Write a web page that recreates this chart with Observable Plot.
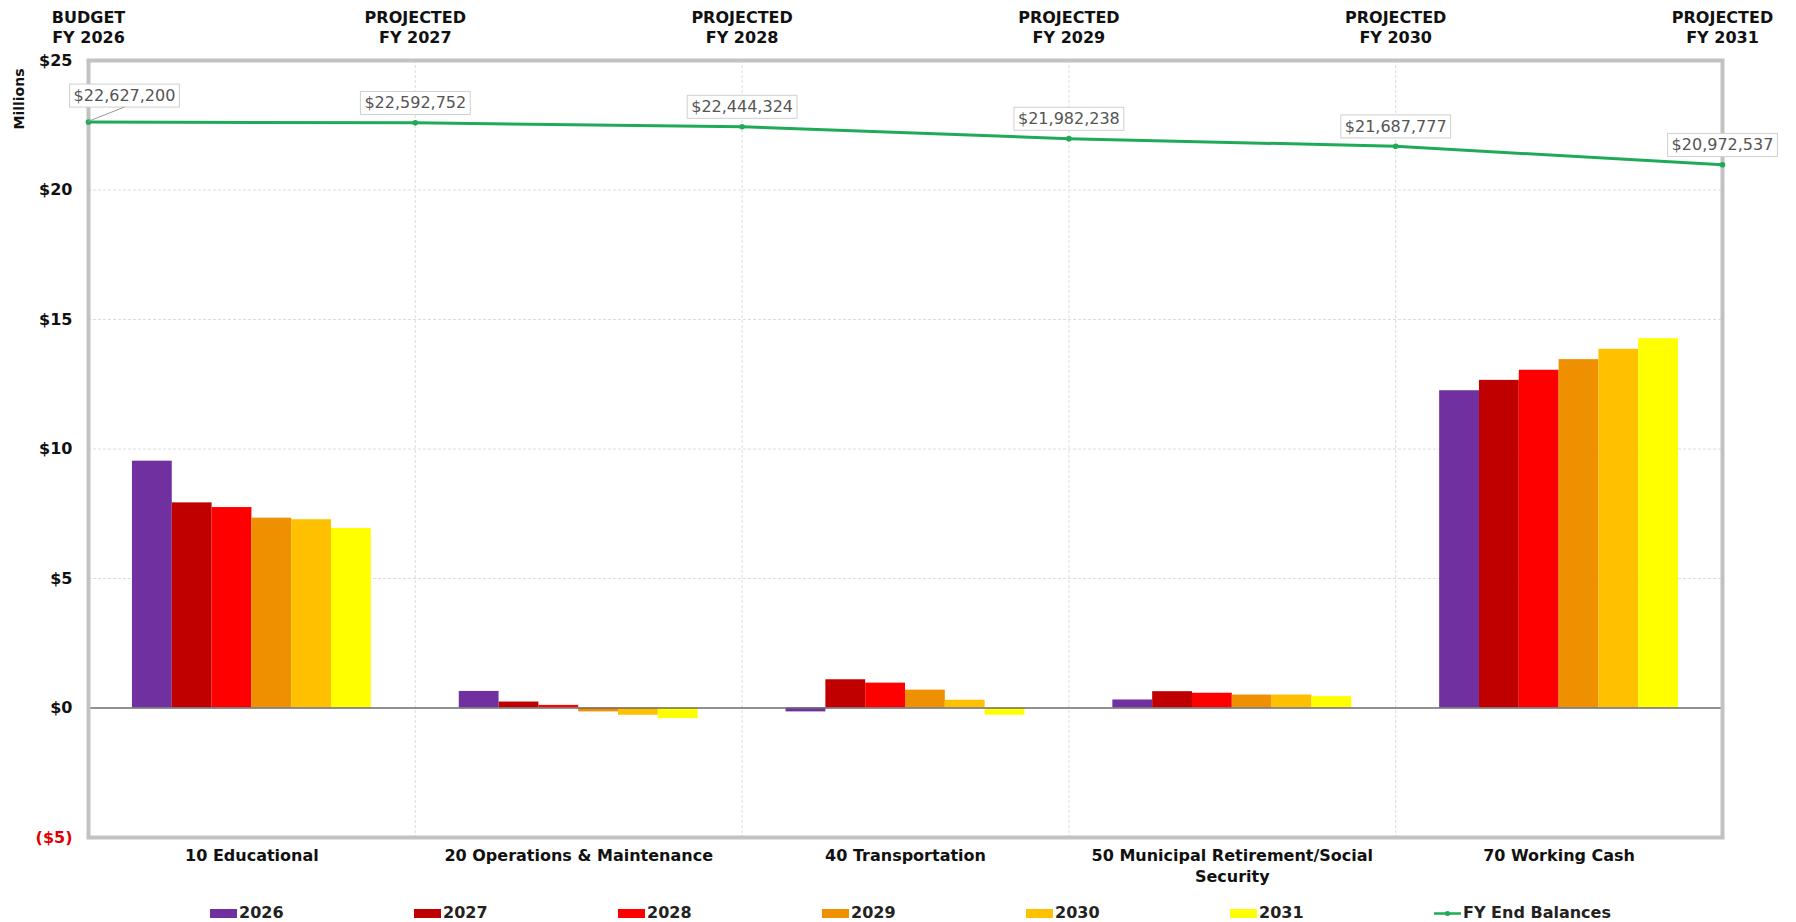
<!DOCTYPE html>
<html><head><meta charset="utf-8">
<script src="https://cdn.jsdelivr.net/npm/d3@7"></script>
<script src="https://cdn.jsdelivr.net/npm/@observablehq/plot@0.6"></script>
<style>
body{margin:0;background:#fff;font-family:"DejaVu Sans",sans-serif;}
#wrap{position:relative;width:1796px;height:922px;overflow:hidden;}
#legend{position:absolute;left:210px;top:903px;display:flex;}
.item{width:204px;display:flex;align-items:center;font-weight:bold;font-size:16px;color:#222;line-height:20px;}
.sw{width:27px;height:9px;margin-right:2px;}
#ylabel{position:absolute;left:19px;top:99px;transform:translate(-50%,-50%) rotate(-90deg);font-weight:bold;font-size:14px;color:#111;white-space:nowrap;}
</style></head><body><div id="wrap"><div id="chart"></div><div id="ylabel">Millions</div><div id="legend"></div></div>
<script>
// ---- data ----
const categories = ["10 Educational", "20 Operations & Maintenance", "40 Transportation", "50 Municipal Retirement/Social\nSecurity", "70 Working Cash"];
const years = ["2026", "2027", "2028", "2029", "2030", "2031"];
// fund balances in millions, by year, in category order
const v2026 = [9.53, 0.64, -0.15, 0.31, 12.25];
const v2027 = [7.92, 0.23, 1.09, 0.63, 12.65];
const v2028 = [7.74, 0.10, 0.96, 0.57, 13.04];
const v2029 = [7.33, -0.15, 0.69, 0.50, 13.45];
const v2030 = [7.27, -0.28, 0.30, 0.50, 13.85];
const v2031 = [6.93, -0.41, -0.28, 0.44, 14.26];
const fyEndBalances = [22627200, 22592752, 22444324, 21982238, 21687777, 20972537];
const fyTop = ["BUDGET", "PROJECTED", "PROJECTED", "PROJECTED", "PROJECTED", "PROJECTED"];
const fyLabels = ["FY 2026", "FY 2027", "FY 2028", "FY 2029", "FY 2030", "FY 2031"];
const yTicks = [-5, 0, 5, 10, 15, 20, 25];
const yearColors = ["#7030A0", "#C00000", "#FF0000", "#EE9000", "#FFC000", "#FFFF00"];
const lineColor = "#1faa58";

// ---- tables ----
const series = [v2026, v2027, v2028, v2029, v2030, v2031];
const bars = [];
years.forEach((yr, yi) => series[yi].forEach((v, ci) => bars.push({ci, yi, year: yr, value: v})));
const bal = fyEndBalances.map((v, i) => ({i, v, top: fyTop[i], fy: fyLabels[i]}));
const cats = categories.map((c, ci) => ({ci, c}));
const PAD = 0.1345, W = (1 - 2 * PAD) / years.length;
const money = d3.format(",");
const tickFmt = d => d < 0 ? `($${-d})` : `$${d}`;

const chart = Plot.plot({
  width: 1796, height: 890,
  marginLeft: 88, marginRight: 74, marginTop: 60, marginBottom: 53,
  style: {fontFamily: "DejaVu Sans, sans-serif", fontSize: "16px", background: "white", overflow: "visible"},
  x: {type: "linear", domain: [0, 5], axis: null},
  y: {domain: [-5, 25], axis: null},
  color: {type: "ordinal", domain: years, range: yearColors},
  marks: [
    Plot.ruleY([5, 10, 15, 20], {stroke: "#dcdcdc", strokeDasharray: "3,2"}),
    Plot.ruleX([1, 2, 3, 4], {stroke: "#dcdcdc", strokeDasharray: "3,2"}),
    Plot.rect(bars, {x1: d => d.ci + PAD + d.yi * W, x2: d => d.ci + PAD + (d.yi + 1) * W, y1: 0, y2: "value", fill: "year"}),
    Plot.ruleY([0], {stroke: "#6b6b6b", strokeWidth: 1.5}),
    Plot.frame({stroke: "#c2c2c2", strokeWidth: 4}),
    Plot.line(bal, {x: "i", y: d => d.v / 1e6, stroke: lineColor, strokeWidth: 3}),
    Plot.dot(bal, {x: "i", y: d => d.v / 1e6, fill: lineColor, r: 2.8}),
    Plot.text(bal.slice(0, 1), {x: "i", y: d => d.v / 1e6, text: d => "$" + money(d.v), dx: 36, dy: -26, fill: "#555", fontSize: 16, ariaDescription: "fy-labels"}),
    Plot.text(bal.slice(1), {x: "i", y: d => d.v / 1e6, text: d => "$" + money(d.v), dy: -19.5, fill: "#555", fontSize: 16, ariaDescription: "fy-labels"}),
    Plot.text(bal, {x: "i", y: 25, text: d => d.top + "\n" + d.fy, lineAnchor: "bottom", lineHeight: 1.25, dy: -18, fontWeight: "bold", fill: "#111"}),
    Plot.text(cats, {x: d => d.ci + 0.5, y: -5, text: "c", lineAnchor: "top", lineHeight: 1.3, dy: 9, fontWeight: "bold", fill: "#111"}),
    Plot.text(yTicks, {x: 0, y: d => d, text: tickFmt, textAnchor: "end", dx: -16, fontWeight: "bold", fill: d => d < 0 ? "#e00000" : "#111"})
  ]
});
document.getElementById("chart").appendChild(chart);

// boxes behind the balance labels
const NS = "http://www.w3.org/2000/svg";
const X = chart.scale("x"), Y = chart.scale("y");
let firstRect = null;
chart.querySelectorAll('g[aria-description="fy-labels"]').forEach(g => {
  g.querySelectorAll("text").forEach(t => {
    const b = t.getBBox();
    const r = document.createElementNS(NS, "rect");
    r.setAttribute("x", b.x - 4); r.setAttribute("y", b.y - 2);
    r.setAttribute("width", b.width + 8); r.setAttribute("height", b.height + 4);
    r.setAttribute("fill", "white"); r.setAttribute("stroke", "#cfcfcf");
    const tr = t.getAttribute("transform"); if (tr) r.setAttribute("transform", tr);
    g.insertBefore(r, t);
    if (!firstRect) firstRect = r;
  });
});
// leader line for first label
if (firstRect) {
  const rb = firstRect.getBoundingClientRect(), sb = chart.getBoundingClientRect();
  const l = document.createElementNS(NS, "line");
  l.setAttribute("x1", X.apply(0)); l.setAttribute("y1", Y.apply(fyEndBalances[0] / 1e6));
  l.setAttribute("x2", rb.left - sb.left + rb.width * 0.5); l.setAttribute("y2", rb.bottom - sb.top);
  l.setAttribute("stroke", "#999"); l.setAttribute("stroke-width", 1);
  chart.appendChild(l);
}

// legend
const leg = document.getElementById("legend");
years.forEach((y, i) => {
  const it = document.createElement("div"); it.className = "item";
  it.innerHTML = `<span class="sw" style="background:${yearColors[i]}"></span>${y}`;
  leg.appendChild(it);
});
const it = document.createElement("div"); it.className = "item"; it.style.width = "220px";
it.innerHTML = `<svg width="27" height="9" style="margin-right:2px"><line x1="0" y1="4.5" x2="27" y2="4.5" stroke="${lineColor}" stroke-width="2.5"/><circle cx="13.5" cy="4.5" r="2.5" fill="${lineColor}"/></svg>FY End Balances`;
leg.appendChild(it);
</script></body></html>
